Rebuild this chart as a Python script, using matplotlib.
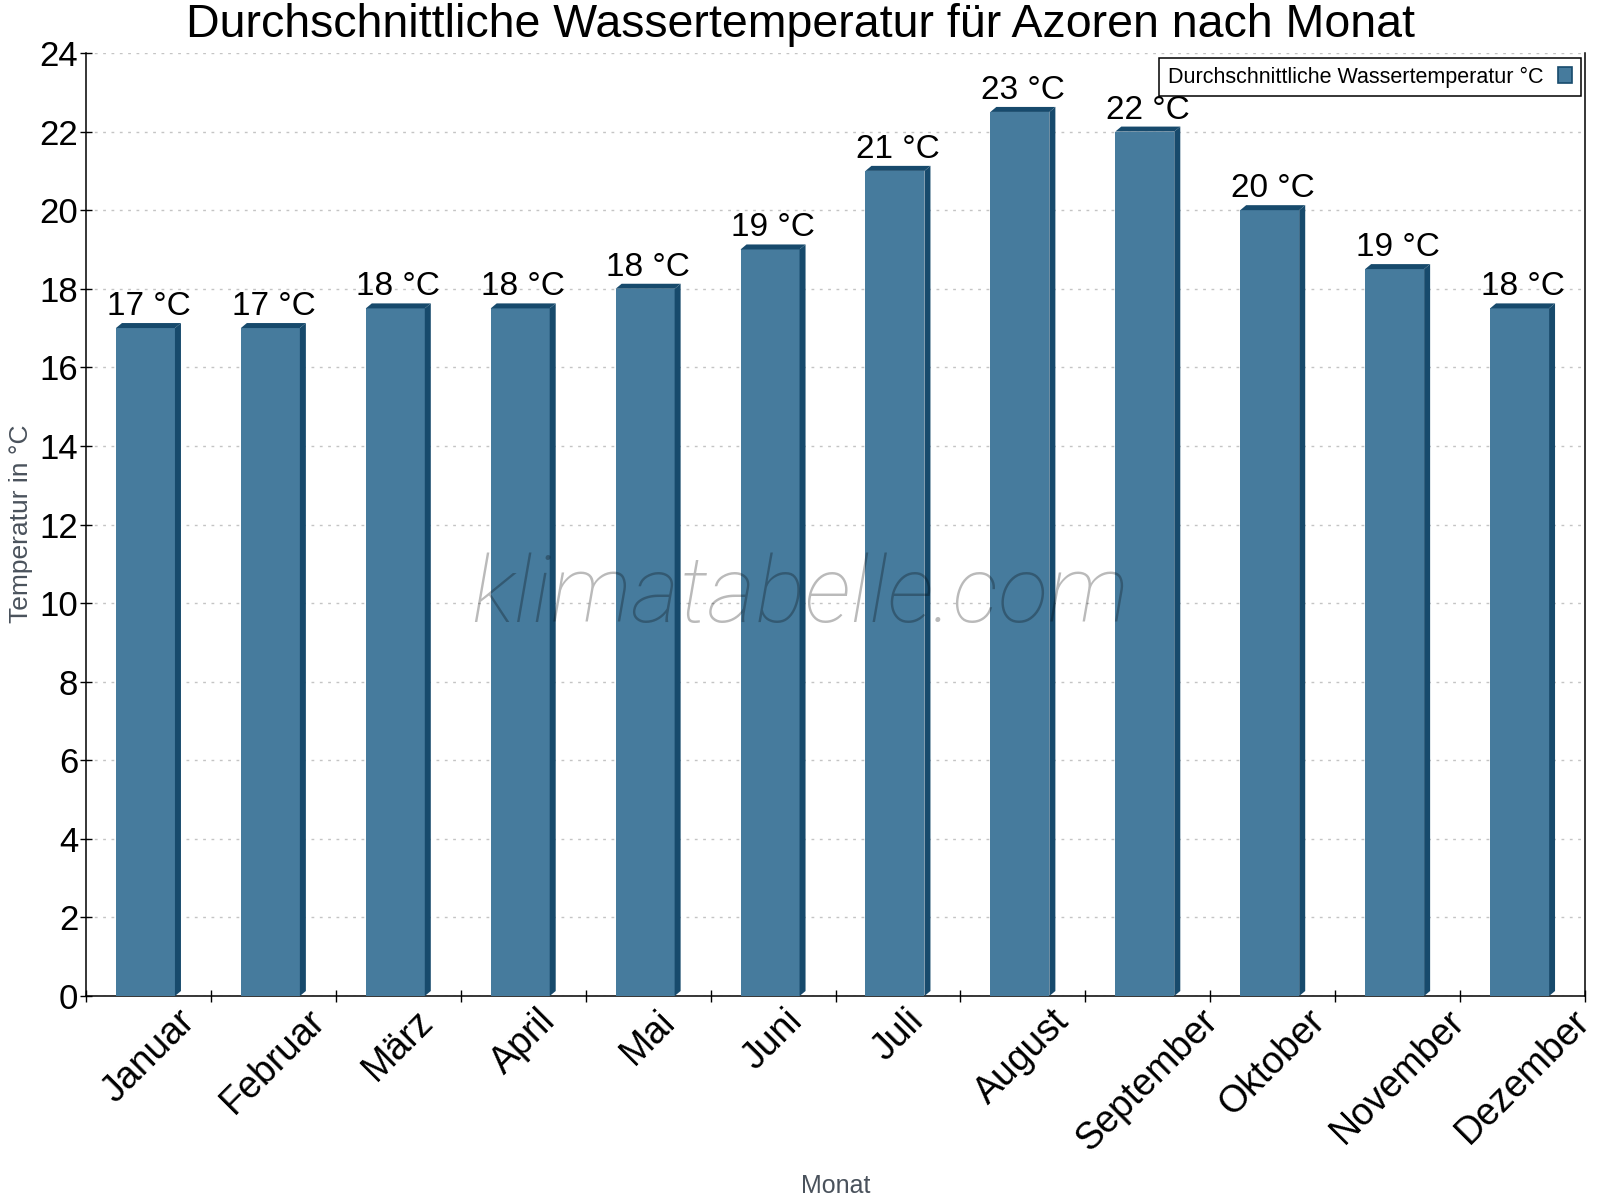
import matplotlib
matplotlib.use("Agg")
import matplotlib.pyplot as plt
from matplotlib.patches import Polygon, Patch

plt.rcParams['font.family'] = ['Liberation Sans', 'DejaVu Sans']

# data
months = ['Januar', 'Februar', 'März', 'April', 'Mai', 'Juni', 'Juli',
          'August', 'September', 'Oktober', 'November', 'Dezember']
water_temp = [17, 17, 17.5, 17.5, 18, 19, 21, 22.5, 22, 20, 18.5, 17.5]
bar_labels = ['17 °C', '17 °C', '18 °C', '18 °C', '18 °C', '19 °C', '21 °C',
              '23 °C', '22 °C', '20 °C', '19 °C', '18 °C']
yticks = list(range(0, 25, 2))

front = '#467b9d'
dark = '#174a6c'

W, H = 1600, 1200
fig = plt.figure(figsize=(16, 12), dpi=100)
# axes box in pixels: left 86, right 1585, top 53, bottom 996
ax = fig.add_axes([86/W, 1-996/H, (1585-86)/W, (996-53)/H])

n = len(months)
ax.set_xlim(-0.5, n-0.5)
ax.set_ylim(0, 24)

# 3d depth of the bars, in data units
px_x = (1585-86)/n
px_y = (996-53)/24
dx = 6/px_x
dy = 5/px_y
bw = 59/px_x

xs = list(range(n))
ax.bar([x - dx/2 for x in xs], water_temp, width=bw, color=front, lw=0, zorder=3)
for x, v in zip(xs, water_temp):
    x0 = x - dx/2 - bw/2
    x1 = x0 + bw
    top = Polygon([(x0, v), (x0+dx, v+dy), (x1+dx, v+dy), (x1, v)],
                  closed=True, fc=dark, ec='none', zorder=3)
    side = Polygon([(x1, 0), (x1, v), (x1+dx, v+dy), (x1+dx, dy)],
                   closed=True, fc=dark, ec='none', zorder=3)
    ax.add_patch(top)
    ax.add_patch(side)

for x, v, lab in zip(xs, water_temp, bar_labels):
    ax.annotate(lab, (x, v+dy), xytext=(0, 1), textcoords='offset pixels',
                ha='center', va='bottom', fontsize=24, color='black', zorder=5)

# grid
ax.set_yticks(yticks)
ax.grid(axis='y', color='#c4c4c4', lw=1, ls=(0, (2, 4)), zorder=0)
ax.set_axisbelow(True)

ax.tick_params(axis='y', labelsize=25, direction='inout', length=9, width=1, pad=1)
ax.set_xticks(xs)
ax.set_xticklabels(months, rotation=45, ha='center', va='top', fontsize=27)
ax.tick_params(axis='x', which='major', length=0, pad=5)
ax.set_xticks([x - 0.5 for x in range(n+1)], minor=True)
ax.tick_params(axis='x', which='minor', direction='inout', length=8, width=1)

ax.spines['top'].set_visible(False)
for s in ['left', 'bottom', 'right']:
    ax.spines[s].set_linewidth(1.1)
    ax.spines[s].set_color('black')

# watermark
fig.text(0.5, 1-597/H, 'klimatabelle.com', ha='center', va='center',
         fontsize=67, style='italic', family=['Roboto', 'Liberation Sans'], weight='light',
         color='black', alpha=0.27, zorder=6)

# legend
leg = ax.legend(handles=[Patch(facecolor=front, edgecolor=dark, lw=1.2,
                               label='Durchschnittliche Wassertemperatur °C')],
                loc='upper right', bbox_to_anchor=(1581/W, 1-58/H),
                bbox_transform=fig.transFigure, borderaxespad=0, fontsize=15.5,
                markerfirst=False, fancybox=False, framealpha=1, borderpad=0.4,
                handlelength=0.65, handleheight=0.8, handletextpad=0.7)
leg.get_frame().set_edgecolor('black')
leg.get_frame().set_linewidth(1.1)
leg.set_zorder(7)

# titles
fig.text(0.5, 1-37/H, 'Durchschnittliche Wassertemperatur für Azoren nach Monat',
         ha='center', va='baseline', fontsize=33.5, color='black')
fig.text((86+1585)/2/W, 1-1193/H, 'Monat', ha='center', va='baseline',
         fontsize=18, color='#4a525c')
fig.text(21/W, 1-524/H, 'Temperatur in °C', ha='center', va='center', rotation=90,
         fontsize=19, color='#4a525c')

fig.savefig('out.png', dpi=100)
